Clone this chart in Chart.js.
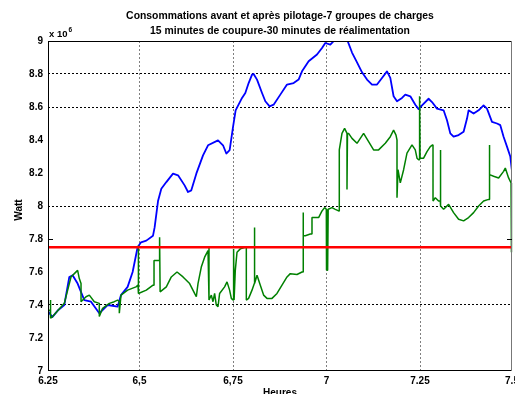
<!DOCTYPE html>
<html><head><meta charset="utf-8">
<script src="https://cdn.jsdelivr.net/npm/chart.js@4.4.1/dist/chart.umd.min.js"></script>
<style>html,body{margin:0;padding:0;background:#fff;overflow:hidden}</style>
</head><body>
<canvas id="c" width="515" height="394" style="display:block;width:515px;height:394px"></canvas>
<script>
const titleLines = ['Consommations avant et après pilotage-7 groupes de charges', '15 minutes de coupure-30 minutes de réalimentation'];
const xAxisTitle = 'Heures';
const yAxisTitle = 'Watt';
const yExponent = '6';

const xTickValues = [6.2553, 6.5, 6.75, 7, 7.25, 7.496];
const xTickLabels = ['6.25', '6,5', '6,75', '7', '7.25', '7.5'];
const yTickValues = [7, 7.2, 7.4, 7.6, 7.8, 8, 8.2, 8.4, 8.6, 8.8, 9];
const yTickLabels = ['7', '7.2', '7.4', '7.6', '7.8', '8', '8.2', '8.4', '8.6', '8.8', '9'];
const yGridShown = [7.4, 8, 8.6, 8.8];
const yInnerTicks = [7.8];

const limitValue = 7.75;

const blueHours = [6.2535, 6.2668, 6.2829, 6.2989, 6.3123, 6.3211, 6.3345, 6.3524, 6.3703, 6.3925, 6.4147, 6.4414, 6.4505, 6.4682, 6.4816, 6.4949, 6.5040, 6.5182, 6.5361, 6.5404, 6.5495, 6.5583, 6.5717, 6.5896, 6.6030, 6.6206, 6.6297, 6.6385, 6.6519, 6.6698, 6.6832, 6.7099, 6.7233, 6.7321, 6.7410, 6.7501, 6.7570, 6.7741, 6.7829, 6.7918, 6.8009, 6.8051, 6.8142, 6.8276, 6.8364, 6.8479, 6.8586, 6.8765, 6.8944, 6.9121, 6.9254, 6.9345, 6.9522, 6.9746, 6.9880, 6.9968, 7.0102, 7.0235, 7.0369, 7.0548, 7.0682, 7.0816, 7.0950, 7.1083, 7.1217, 7.1351, 7.1484, 7.1618, 7.1706, 7.1794, 7.1885, 7.2019, 7.2107, 7.2241, 7.2375, 7.2463, 7.2554, 7.2730, 7.2821, 7.2954, 7.3131, 7.3222, 7.3310, 7.3398, 7.3532, 7.3666, 7.3757, 7.3799, 7.3933, 7.4067, 7.4200, 7.4291, 7.4425, 7.4559, 7.4647, 7.4735, 7.4826, 7.4914, 7.4955];
const blueValues = [7.368, 7.327, 7.37, 7.40, 7.57, 7.58, 7.53, 7.43, 7.42, 7.35, 7.40, 7.39, 7.46, 7.51, 7.60, 7.75, 7.78, 7.79, 7.82, 7.87, 8.03, 8.105, 8.145, 8.196, 8.186, 8.125, 8.085, 8.095, 8.196, 8.307, 8.368, 8.398, 8.368, 8.318, 8.338, 8.479, 8.58, 8.655, 8.685, 8.745, 8.796, 8.80, 8.766, 8.685, 8.635, 8.604, 8.614, 8.675, 8.736, 8.745, 8.766, 8.816, 8.877, 8.918, 8.958, 8.988, 8.978, 9.01, 9.02, 9.01, 8.93, 8.87, 8.81, 8.766, 8.736, 8.736, 8.776, 8.816, 8.776, 8.665, 8.635, 8.655, 8.675, 8.665, 8.614, 8.587, 8.61, 8.65, 8.63, 8.59, 8.58, 8.52, 8.44, 8.42, 8.43, 8.45, 8.53, 8.58, 8.56, 8.58, 8.61, 8.59, 8.51, 8.50, 8.49, 8.42, 8.36, 8.30, 8.22];

const greenHours = [6.2543, 6.2615, 6.2615, 6.2628, 6.2676, 6.2989, 6.3168, 6.3257, 6.3345, 6.3390, 6.3436, 6.3436, 6.3570, 6.3658, 6.3791, 6.3925, 6.3925, 6.4013, 6.4193, 6.4326, 6.4414, 6.4460, 6.4460, 6.4505, 6.4682, 6.4906, 6.4960, 6.4960, 6.4981, 6.5182, 6.5361, 6.5388, 6.5388, 6.5495, 6.5537, 6.5537, 6.5551, 6.5717, 6.5850, 6.6003, 6.6163, 6.6340, 6.6473, 6.6519, 6.6564, 6.6652, 6.6741, 6.6832, 6.6858, 6.6858, 6.6920, 6.6965, 6.7008, 6.7053, 6.7099, 6.7142, 6.7275, 6.7340, 6.7409, 6.7455, 6.7500, 6.7516, 6.7529, 6.7561, 6.7607, 6.7695, 6.7829, 6.7856, 6.7856, 6.7917, 6.8008, 6.8070, 6.8070, 6.8083, 6.8142, 6.8230, 6.8318, 6.8409, 6.8543, 6.8676, 6.8810, 6.8944, 6.9032, 6.9211, 6.9345, 6.9372, 6.9372, 6.9385, 6.9433, 6.9567, 6.9612, 6.9612, 6.9701, 6.9789, 6.9880, 6.9949, 6.9995, 6.9995, 7.0005, 7.0015, 7.0025, 7.0035, 7.0045, 7.0147, 7.0235, 7.0324, 7.0342, 7.0342, 7.0414, 7.0484, 7.0548, 7.0548, 7.0561, 7.0591, 7.0682, 7.0816, 7.0992, 7.1126, 7.1259, 7.1393, 7.1572, 7.1706, 7.1794, 7.1858, 7.1885, 7.1885, 7.1912, 7.1973, 7.2062, 7.2152, 7.2286, 7.2374, 7.2420, 7.2463, 7.2489, 7.2489, 7.2503, 7.2596, 7.2687, 7.2775, 7.2837, 7.2848, 7.2848, 7.2909, 7.2997, 7.3043, 7.3043, 7.3056, 7.3131, 7.3265, 7.3398, 7.3532, 7.3666, 7.3799, 7.3933, 7.4067, 7.4201, 7.4334, 7.4353, 7.4353, 7.4366, 7.4468, 7.4602, 7.4735, 7.4781, 7.4869, 7.4935, 7.4945, 7.4945];
const greenValues = [7.368, 7.37, 7.43, 7.32, 7.33, 7.41, 7.57, 7.59, 7.61, 7.56, 7.53, 7.42, 7.45, 7.46, 7.42, 7.41, 7.33, 7.38, 7.41, 7.42, 7.43, 7.42, 7.35, 7.46, 7.49, 7.51, 7.52, 7.76, 7.47, 7.49, 7.52, 7.52, 7.67, 7.67, 7.67, 7.81, 7.48, 7.51, 7.57, 7.60, 7.57, 7.53, 7.47, 7.45, 7.53, 7.63, 7.69, 7.73, 7.75, 7.43, 7.46, 7.42, 7.47, 7.40, 7.39, 7.47, 7.51, 7.54, 7.49, 7.44, 7.43, 7.74, 7.43, 7.61, 7.72, 7.74, 7.75, 7.75, 7.43, 7.44, 7.49, 7.53, 7.87, 7.53, 7.58, 7.52, 7.46, 7.44, 7.44, 7.47, 7.52, 7.57, 7.59, 7.585, 7.60, 7.60, 7.96, 7.82, 7.82, 7.83, 7.83, 7.93, 7.93, 7.93, 7.97, 7.99, 7.98, 7.61, 7.98, 7.61, 7.98, 7.61, 7.98, 7.99, 7.98, 7.97, 7.97, 8.34, 8.44, 8.47, 8.44, 8.10, 8.44, 8.44, 8.41, 8.38, 8.44, 8.39, 8.34, 8.34, 8.38, 8.42, 8.46, 8.43, 8.40, 8.05, 8.22, 8.14, 8.22, 8.32, 8.37, 8.34, 8.29, 8.28, 8.28, 8.665, 8.29, 8.29, 8.33, 8.36, 8.37, 8.37, 8.03, 8.05, 8.03, 8.03, 8.34, 8.00, 7.98, 8.01, 7.96, 7.92, 7.91, 7.93, 7.96, 8.00, 8.03, 8.04, 8.04, 8.37, 8.19, 8.18, 8.17, 8.21, 8.23, 8.17, 8.14, 8.14, 7.72];

const FONT = '"Liberation Sans", Arial, Helvetica, sans-serif';
Chart.defaults.font.family = FONT;

function pairs(xs, ys) {
  const n = Math.min(xs.length, ys.length);
  const out = [];
  for (let i = 0; i < n; i++) out.push({x: xs[i], y: ys[i]});
  return out;
}
const xMin = xTickValues[0], xMax = xTickValues[xTickValues.length - 1];
const yMin = yTickValues[0], yMax = yTickValues[yTickValues.length - 1];
const near = (a, b) => Math.abs(a - b) < 1e-6;

const decor = {
  id: 'decor',
  afterDraw(chart) {
    const ctx = chart.ctx, a = chart.chartArea, ys = chart.scales.y;
    ctx.save();
    ctx.setLineDash([]);
    ctx.lineWidth = 1;
    ctx.strokeStyle = '#000';
    ctx.beginPath();
    ctx.moveTo(a.left + 0.5, a.top + 0.5); ctx.lineTo(a.right - 0.5, a.top + 0.5);
    ctx.moveTo(a.left + 0.5, a.top); ctx.lineTo(a.left + 0.5, a.bottom);
    ctx.moveTo(a.left, a.bottom - 0.5); ctx.lineTo(a.right, a.bottom - 0.5);
    ctx.stroke();
    ctx.strokeStyle = '#777';
    ctx.beginPath();
    ctx.moveTo(a.right - 0.5, a.top); ctx.lineTo(a.right - 0.5, a.bottom);
    ctx.stroke();
    ctx.strokeStyle = '#000';
    ctx.beginPath();
    yInnerTicks.forEach(v => {
      const py = Math.round(ys.getPixelForValue(v)) + 0.5;
      ctx.moveTo(a.left, py); ctx.lineTo(a.left + 5, py);
      ctx.moveTo(a.right - 5, py); ctx.lineTo(a.right, py);
    });
    ctx.stroke();
    ctx.fillStyle = '#000';
    ctx.textAlign = 'center';
    ctx.textBaseline = 'middle';
    ctx.font = 'bold 10.4px ' + FONT;
    const cx = (a.left + a.right) / 2;
    ctx.fillText(titleLines[0], cx, 16);
    ctx.fillText(titleLines[1], cx, 31);
    ctx.font = 'bold 10px ' + FONT;
    ctx.textBaseline = 'top';
    ctx.fillText(xAxisTitle, cx, 388);
    ctx.save();
    ctx.translate(19, 210);
    ctx.rotate(-Math.PI / 2);
    ctx.textBaseline = 'middle';
    ctx.fillText(yAxisTitle, 0, 0);
    ctx.restore();
    ctx.textAlign = 'left';
    ctx.textBaseline = 'alphabetic';
    ctx.font = 'bold 9.5px ' + FONT;
    const base = 'x 10';
    ctx.fillText(base, a.left + 1, 37);
    const w = ctx.measureText(base).width;
    ctx.font = 'bold 6.5px ' + FONT;
    ctx.fillText(yExponent, a.left + 1 + w + 1, 32);
    ctx.restore();
  }
};

new Chart(document.getElementById('c'), {
  type: 'line',
  data: {
    datasets: [
      {label: 'limit', data: pairs([xMin, xMax], [limitValue, limitValue]), borderColor: '#ff0000', borderWidth: 2.6, pointRadius: 0, order: 0, clip: 0},
      {label: 'après', data: pairs(greenHours, greenValues), borderColor: '#008000', borderWidth: 1.5, pointRadius: 0, tension: 0, borderJoinStyle: 'bevel', order: 1, clip: {left: 0, top: 0, right: 2, bottom: 0}},
      {label: 'avant', data: pairs(blueHours, blueValues), borderColor: '#0000ff', borderWidth: 1.8, pointRadius: 0, tension: 0, borderJoinStyle: 'round', order: 2, clip: 0}
    ]
  },
  options: {
    responsive: false,
    animation: false,
    devicePixelRatio: 1,
    layout: {padding: {top: 41, right: 3, left: 0, bottom: 0}},
    plugins: {legend: {display: false}, tooltip: {enabled: false}, title: {display: false}},
    scales: {
      x: {
        type: 'linear', min: xMin, max: xMax,
        afterBuildTicks: s => { s.ticks = xTickValues.map(v => ({value: v})); },
        afterFit: s => { s.height = 23; s.paddingLeft = 0; s.paddingRight = 0; },
        ticks: {autoSkip: false, maxRotation: 0, minRotation: 0, padding: 4, color: '#000', font: {size: 10, weight: 'bold'},
          callback: (v, i) => xTickLabels[i]},
        grid: {drawTicks: false, lineWidth: 1,
          color: c => (c.tick && c.index > 0 && c.index < xTickValues.length - 1) ? '#808080' : 'rgba(0,0,0,0)'},
        border: {display: false, dash: [2, 2]}
      },
      y: {
        type: 'linear', min: yMin, max: yMax,
        afterBuildTicks: s => { s.ticks = yTickValues.map(v => ({value: v})); },
        afterFit: s => { s.width = 48; s.paddingTop = 0; s.paddingBottom = 0; },
        ticks: {autoSkip: false, padding: 5, color: '#000', font: {size: 10, weight: 'bold'},
          callback: (v, i) => yTickLabels[i]},
        grid: {drawTicks: false, lineWidth: 1,
          color: c => (c.tick && yGridShown.some(g => near(g, c.tick.value))) ? '#000' : 'rgba(0,0,0,0)'},
        border: {display: false, dash: [2, 2]}
      }
    }
  },
  plugins: [decor]
});
</script>
</body></html>
